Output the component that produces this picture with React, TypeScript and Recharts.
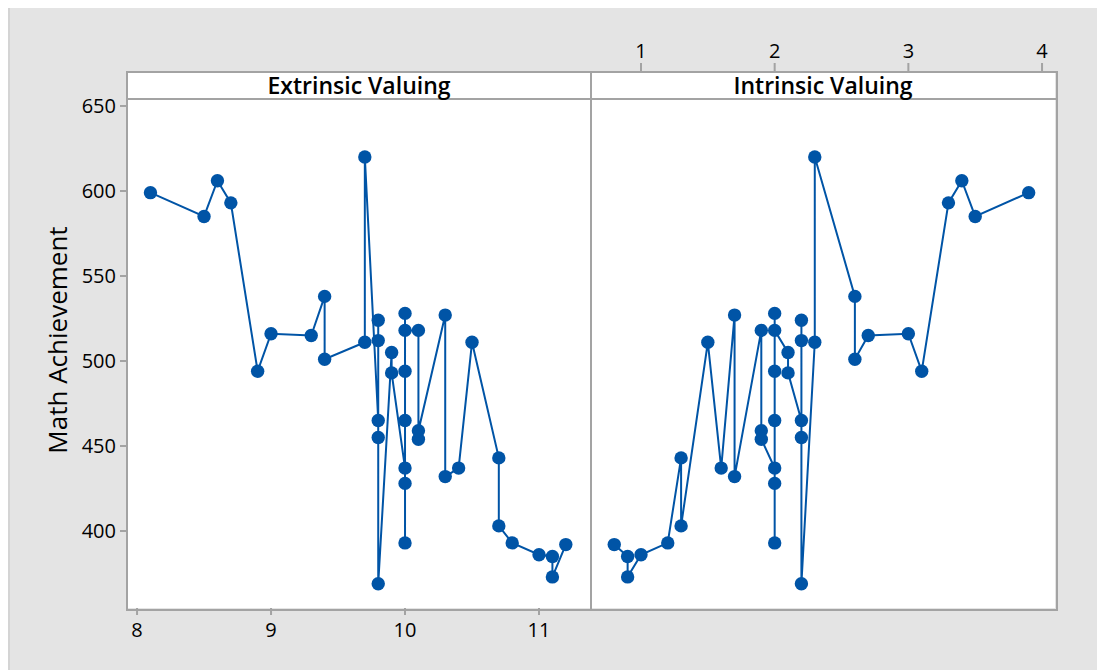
import React from "react";
import { ScatterChart, Scatter, XAxis, YAxis } from "recharts";

// Extrinsic valuing (x) vs math achievement, in plotted order
const extrinsicX = [
  8.1, 8.5, 8.6, 8.7, 8.9, 9.0, 9.3, 9.4, 9.4, 9.7, 9.7, 9.8, 9.8, 9.8, 9.8, 9.8, 9.9, 9.9, 10.0, 10.0,
  10.0, 10.0, 10.0, 10.0, 10.0, 10.1, 10.1, 10.1, 10.3, 10.3, 10.4, 10.5, 10.7, 10.7, 10.8, 11.0, 11.1, 11.1, 11.2,
];
const extrinsicMath = [
  599, 585, 606, 593, 494, 516, 515, 538, 501, 511, 620, 465, 524, 512, 455, 369, 505, 493, 437, 393,
  428, 465, 494, 528, 518, 518, 454, 459, 527, 432, 437, 511, 443, 403, 393, 386, 385, 373, 392,
];

// Intrinsic valuing (x) vs math achievement, in plotted order
const intrinsicX = [
  0.8, 0.9, 0.9, 1.0, 1.2, 1.3, 1.3, 1.5, 1.6, 1.7, 1.7, 1.9, 1.9, 1.9, 2.0, 2.0, 2.0, 2.0, 2.0, 2.0,
  2.0, 2.1, 2.1, 2.2, 2.2, 2.2, 2.2, 2.2, 2.3, 2.3, 2.6, 2.6, 2.7, 3.0, 3.1, 3.3, 3.4, 3.5, 3.9,
];
const intrinsicMath = [
  392, 385, 373, 386, 393, 443, 403, 511, 437, 527, 432, 518, 459, 454, 437, 393, 428, 465, 494, 528,
  518, 505, 493, 465, 524, 512, 455, 369, 511, 620, 538, 501, 515, 516, 494, 593, 606, 585, 599,
];

const yTicks = [400, 450, 500, 550, 600, 650];
const extrinsicTicks = [8, 9, 10, 11];
const intrinsicTicks = [1, 2, 3, 4];

const blue = "#0054a6";
const border = "#a3a3a3";
const font = "'Open Sans', 'Noto Sans', sans-serif";
const tickFont = 20;

const extData = extrinsicX.map((x, i) => ({ x, y: extrinsicMath[i] }));
const intData = intrinsicX.map((x, i) => ({ x, y: intrinsicMath[i] }));

const Dot = (props: any) => <circle cx={props.cx} cy={props.cy} r={6.7} fill={blue} />;

const TopTick = (props: any) => {
  const { x, payload } = props;
  return (
    <g>
      <line x1={x} x2={x} y1={63} y2={72} stroke={border} strokeWidth={2} />
      <text x={x} y={58} textAnchor="middle" style={{ fontSize: tickFont, fontWeight: 500, fontFamily: font }} fill="#000">
        {payload.value}
      </text>
    </g>
  );
};

const BottomTick = (props: any) => {
  const { x, payload } = props;
  return (
    <g>
      <line x1={x} x2={x} y1={608} y2={615} stroke={border} strokeWidth={2} />
      <text x={x} y={637} textAnchor="middle" style={{ fontSize: tickFont, fontWeight: 500, fontFamily: font }} fill="#000">
        {payload.value}
      </text>
    </g>
  );
};

const LeftTick = (props: any) => {
  const { y, payload } = props;
  return (
    <g>
      <line x1={120} x2={127} y1={y} y2={y} stroke={border} strokeWidth={2} />
      <text x={116} y={y} dy={7} textAnchor="end" style={{ fontSize: tickFont, fontWeight: 500, fontFamily: font }} fill="#000">
        {payload.value}
      </text>
    </g>
  );
};

const stripStyle: React.CSSProperties = {
  position: "absolute",
  top: 72,
  width: 462,
  height: 27,
  lineHeight: "27px",
  textAlign: "center",
  fontFamily: font,
  fontWeight: 600,
  fontSize: 23,
  color: "#000",
};

const App: React.FC = () => {
  return (
    <div
      style={{
        position: "absolute",
        left: 0,
        top: 0,
        width: 1097,
        height: 670,
        background: "#e4e4e4",
        overflow: "hidden",
      }}
    >
      <div style={{ position: "absolute", left: 0, top: 0, width: 1097, height: 8, background: "#fff" }} />
      <div style={{ position: "absolute", left: 0, top: 0, width: 8, height: 670, background: "#fff" }} />
      <div style={{ position: "absolute", left: 8, top: 8, width: 2, height: 662, background: "#d4d4d4" }} />

      {/* panel backgrounds */}
      <div style={{ position: "absolute", left: 127, top: 72, width: 928, height: 536, background: "#fff" }} />

      <div style={{ position: "absolute", left: 0, top: 0 }}>
        <ScatterChart width={591} height={670} margin={{ top: 99, right: 0, bottom: 0, left: 0 }}>
          <XAxis
            type="number"
            dataKey="x"
            domain={[7.925, 11.388]}
            ticks={extrinsicTicks}
            allowDataOverflow
            height={62}
            tick={<BottomTick />}
            tickLine={false}
            axisLine={false}
          />
          <YAxis
            type="number"
            dataKey="y"
            domain={[354.7, 654.1]}
            ticks={yTicks}
            allowDataOverflow
            width={127}
            tick={<LeftTick />}
            tickLine={false}
            axisLine={false}
          />
          <Scatter
            data={extData}
            line={{ stroke: blue, strokeWidth: 2 }}
            shape={Dot}
            isAnimationActive={false}
          />
        </ScatterChart>
      </div>

      <div style={{ position: "absolute", left: 591, top: 0 }}>
        <ScatterChart width={506} height={670} margin={{ top: 69, right: 42, bottom: 62, left: 0 }}>
          <XAxis
            type="number"
            dataKey="x"
            orientation="top"
            domain={[0.626, 4.097]}
            ticks={intrinsicTicks}
            allowDataOverflow
            height={30}
            tick={<TopTick />}
            tickLine={false}
            axisLine={false}
          />
          <YAxis type="number" dataKey="y" domain={[354.7, 654.1]} allowDataOverflow hide />
          <Scatter
            data={intData}
            line={{ stroke: blue, strokeWidth: 2 }}
            shape={Dot}
            isAnimationActive={false}
          />
        </ScatterChart>
      </div>

      {/* panel frames and strips */}
      <div
        style={{
          position: "absolute",
          left: 126,
          top: 71,
          width: 928,
          height: 536,
          border: `2px solid ${border}`,
          pointerEvents: "none",
        }}
      />
      <div style={{ position: "absolute", left: 590, top: 71, width: 2, height: 538, background: border }} />
      <div style={{ position: "absolute", left: 126, top: 98, width: 930, height: 2, background: border }} />
      <div style={{ ...stripStyle, left: 128 }}>Extrinsic Valuing</div>
      <div style={{ ...stripStyle, left: 592 }}>Intrinsic Valuing</div>

      <div
        style={{
          position: "absolute",
          left: 57,
          top: 340,
          transform: "translate(-50%, -50%) rotate(-90deg)",
          whiteSpace: "nowrap",
          fontFamily: font,
          fontSize: 26,
          color: "#000",
        }}
      >
        Math Achievement
      </div>
    </div>
  );
};

export default App;
